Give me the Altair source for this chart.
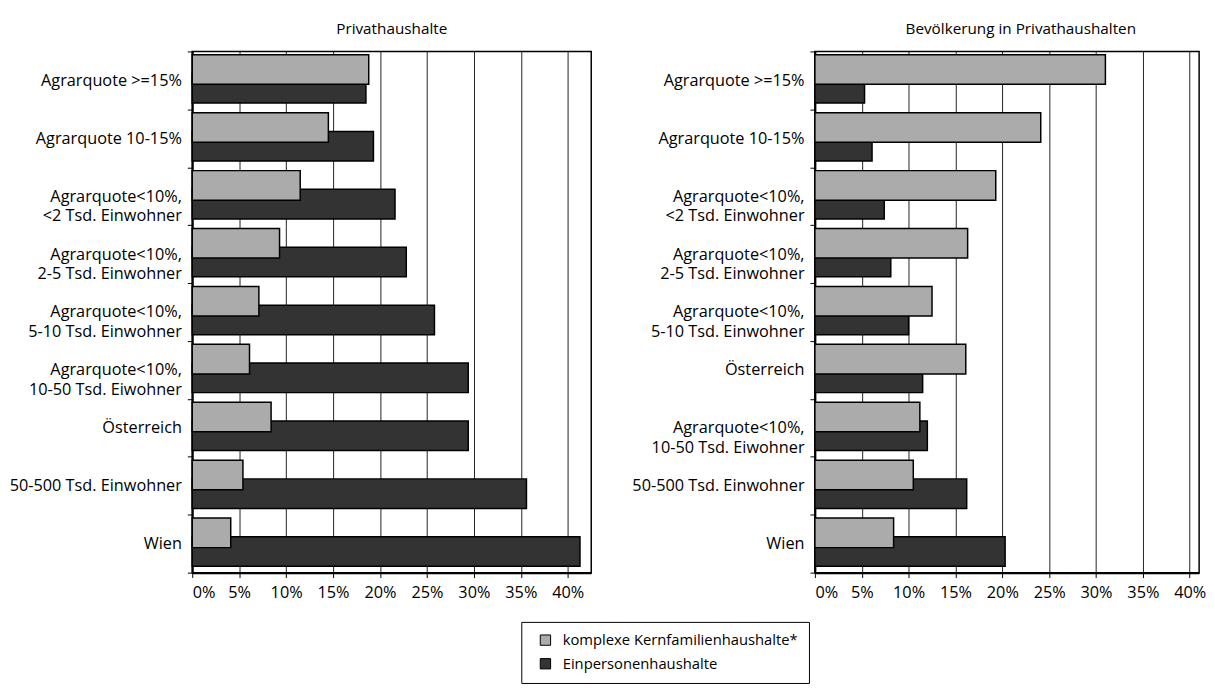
import altair as alt
import pandas as pd

S1 = "komplexe Kernfamilienhaushalte*"
S2 = "Einpersonenhaushalte"

cats_left = [
    "Agrarquote >=15%",
    "Agrarquote 10-15%",
    "Agrarquote<10%,|<2 Tsd. Einwohner",
    "Agrarquote<10%,|2-5 Tsd. Einwohner",
    "Agrarquote<10%,|5-10 Tsd. Einwohner",
    "Agrarquote<10%,|10-50 Tsd. Eiwohner",
    "Österreich",
    "50-500 Tsd. Einwohner",
    "Wien",
]
komplex_left = [18.8, 14.5, 11.5, 9.3, 7.1, 6.1, 8.4, 5.4, 4.1]
einp_left = [18.5, 19.3, 21.6, 22.8, 25.8, 29.4, 29.4, 35.6, 41.3]

cats_right = [
    "Agrarquote >=15%",
    "Agrarquote 10-15%",
    "Agrarquote<10%,|<2 Tsd. Einwohner",
    "Agrarquote<10%,|2-5 Tsd. Einwohner",
    "Agrarquote<10%,|5-10 Tsd. Einwohner",
    "Österreich",
    "Agrarquote<10%,|10-50 Tsd. Eiwohner",
    "50-500 Tsd. Einwohner",
    "Wien",
]
komplex_right = [31.0, 24.1, 19.3, 16.3, 12.5, 16.1, 11.2, 10.5, 8.4]
einp_right = [5.3, 6.1, 7.4, 8.1, 10.0, 11.5, 12.0, 16.2, 20.3]

tick_values = [0, 5, 10, 15, 20, 25, 30, 35, 40]

legend = alt.Legend(
    title=None,
    orient="none",
    legendX=334,
    legendY=579,
    direction="vertical",
    padding=11,
    rowPadding=8,
    strokeColor="black",
    fillColor="white",
    symbolType="square",
    symbolSize=110,
    symbolOffset=6,
    symbolStrokeColor="black",
    symbolStrokeWidth=1,
    labelFontSize=15,
    labelColor="black",
    labelOffset=10,
    labelLimit=400,
)

color_scale = alt.Scale(domain=[S1, S2], range=["#ababab", "#333333"])


def panel(cats, komplex, einp, title, width, xmax, title_dx=0):
    df = pd.DataFrame(
        {
            "cat": cats + cats,
            "value": komplex + einp,
            "series": [S1] * len(cats) + [S2] * len(cats),
        }
    )
    base = alt.Chart(df).encode(
        y=alt.Y(
            "cat:N",
            sort=cats,
            title=None,
            scale=alt.Scale(paddingInner=0, paddingOuter=0),
            axis=alt.Axis(
                labelExpr="split(datum.label, '|')",
                labelFontSize=16.5,
                labelColor="black",
                labelLineHeight=20,
                labelPadding=6,
                labelLimit=300,
                tickBand="extent",
                tickSize=5,
                tickColor="black",
                domainColor="black",
                domainWidth=2,
                grid=False,
            ),
        ),
        x=alt.X(
            "value:Q",
            title=None,
            scale=alt.Scale(domain=[0, xmax], nice=False),
            axis=alt.Axis(
                values=tick_values,
                labelExpr="datum.value + '%'",
                labelFontSize=16.5,
                labelColor="black",
                labelPadding=7,
                tickSize=5,
                tickColor="black",
                domainColor="black",
                domainWidth=2.5,
                grid=True,
                gridColor="#222222",
                gridWidth=1,
            ),
        ),
        color=alt.Color("series:N", scale=color_scale, legend=legend),
    )
    e = base.transform_filter(alt.datum.series == S2).mark_bar(
        size=30, yOffset=8, stroke="black", strokeWidth=1.5
    )
    k = base.transform_filter(alt.datum.series == S1).mark_bar(
        size=30, yOffset=-11, stroke="black", strokeWidth=1.5
    )
    return alt.layer(e, k).properties(
        width=width,
        height=529,
        title=alt.TitleParams(
            title,
            fontSize=15.5,
            fontWeight="normal",
            anchor="middle",
            offset=6,
            color="black",
            dx=title_dx,
        ),
    )


left = panel(cats_left, komplex_left, einp_left, "Privathaushalte", 405, 42.5)
right = panel(
    cats_right, komplex_right, einp_right, "Bevölkerung in Privathaushalten", 390, 41.0, title_dx=14
)

chart = (
    alt.hconcat(left, right, spacing=39)
    .properties(padding={"left": 0, "top": 8, "right": 0, "bottom": 0})
    .configure(font="Open Sans")
    .configure_view(stroke="black", strokeWidth=1.5)
)

chart.save("out.html", embed_options={"renderer": "svg", "actions": False})
